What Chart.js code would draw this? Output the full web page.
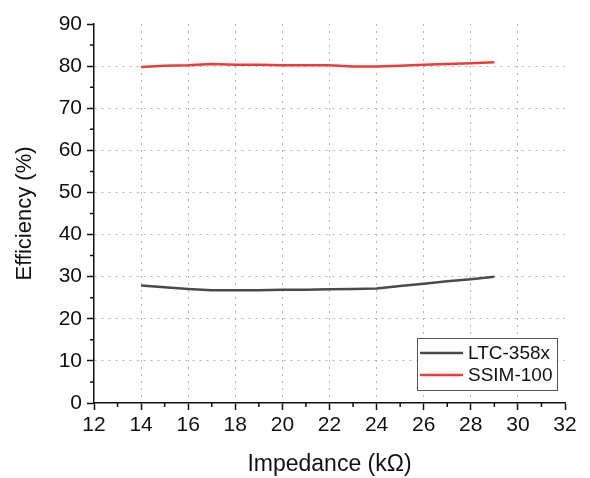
<!DOCTYPE html>
<html>
<head>
<meta charset="utf-8">
<script src="https://cdn.jsdelivr.net/npm/chart.js@4/dist/chart.umd.min.js"></script>
<style>
html,body{margin:0;padding:0;background:#fff;}
#wrap{width:590px;height:478px;position:relative;}
</style>
</head>
<body>
<div id="wrap"><canvas id="c" width="590" height="478"></canvas></div>
<script>
const impedance = [14,15,16,17,18,19,20,21,22,23,24,25,26,27,28,29];
const ltc358x   = [27.9,27.5,27.1,26.8,26.8,26.8,26.9,26.9,27.0,27.1,27.2,27.8,28.3,28.9,29.4,30.0];
const ssim100   = [79.8,80.1,80.2,80.5,80.3,80.3,80.2,80.2,80.2,79.9,79.9,80.1,80.3,80.5,80.7,80.9];
const seriesLabels = ['LTC-358x','SSIM-100'];
const seriesColors = ['#4a4a4a','#ee3a3a'];
const xMin = 12, xMax = 32, xStep = 2;
const yMin = 0, yMax = 90, yStep = 10;

const FONT = "'Liberation Sans', Arial, sans-serif";

const minorTicks = {
  id: 'minorTicks',
  afterDraw(chart) {
    const ctx = chart.ctx, xs = chart.scales.x, ys = chart.scales.y;
    ctx.save();
    ctx.strokeStyle = '#111';
    ctx.lineWidth = 1.5;
    ctx.beginPath();
    for (let v = xMin + xStep/2; v < xMax; v += xStep) {
      const px = xs.getPixelForValue(v);
      ctx.moveTo(px, ys.bottom); ctx.lineTo(px, ys.bottom + 4);
    }
    for (let v = yMin + yStep/2; v < yMax; v += yStep) {
      const py = ys.getPixelForValue(v);
      ctx.moveTo(xs.left, py); ctx.lineTo(xs.left - 4, py);
    }
    ctx.stroke();
    ctx.restore();
  }
};

const boxLegend = {
  id: 'boxLegend',
  afterDraw(chart) {
    const ctx = chart.ctx;
    const x0 = 417, y0 = 338, w = 140, h = 52;
    ctx.save();
    ctx.fillStyle = '#fff';
    ctx.fillRect(x0, y0, w, h);
    ctx.strokeStyle = '#555';
    ctx.lineWidth = 1;
    ctx.strokeRect(x0 + 0.5, y0 + 0.5, w, h);
    ctx.font = '19px ' + FONT;
    ctx.textBaseline = 'middle';
    ctx.fillStyle = '#111';
    chart.data.datasets.forEach((ds, i) => {
      const yy = y0 + 15 + i * 22;
      ctx.strokeStyle = ds.borderColor;
      ctx.lineWidth = 2.5;
      ctx.beginPath();
      ctx.moveTo(x0 + 3, yy); ctx.lineTo(x0 + 46, yy);
      ctx.stroke();
      ctx.fillText(ds.label, x0 + 51, yy + 1);
    });
    ctx.restore();
  }
};

const whiteBg = {
  id: 'whiteBg',
  beforeDraw(chart) {
    const ctx = chart.ctx;
    ctx.save(); ctx.fillStyle = '#fff';
    ctx.fillRect(0, 0, chart.width, chart.height);
    ctx.restore();
  }
};

const makeData = (ys) => impedance.map((x, i) => ({x: x, y: ys[i]}));

new Chart(document.getElementById('c'), {
  type: 'line',
  data: {
    datasets: [
      {label: seriesLabels[0], data: makeData(ltc358x), borderColor: seriesColors[0], backgroundColor: seriesColors[0], borderWidth: 2.5, pointRadius: 0, tension: 0},
      {label: seriesLabels[1], data: makeData(ssim100), borderColor: seriesColors[1], backgroundColor: seriesColors[1], borderWidth: 2.5, pointRadius: 0, tension: 0}
    ]
  },
  options: {
    responsive: false,
    animation: false,
    devicePixelRatio: 1,
    layout: {padding: {left: 0, right: 25, top: 24, bottom: 0}},
    plugins: {legend: {display: false}, tooltip: {enabled: false}},
    scales: {
      x: {
        type: 'linear', min: xMin, max: xMax,
        ticks: {stepSize: xStep, color: '#111', font: {family: FONT, size: 21}, padding: 3, maxRotation: 0, autoSkip: false},
        grid: {
          color: (c) => (c.tick && (c.tick.value === xMin || c.tick.value === xMax)) ? 'rgba(0,0,0,0)' : '#b4b4b4',
          lineWidth: 1, tickLength: 7, tickColor: '#111', tickWidth: 1.5
        },
        border: {display: true, color: '#111', width: 1.5, dash: [2, 5]},
        title: {display: true, text: 'Impedance (kΩ)', color: '#111', font: {family: FONT, size: 23}, padding: {top: 0, bottom: 0}},
        afterFit: (s) => { s.height = 75; }
      },
      y: {
        type: 'linear', min: yMin, max: yMax,
        ticks: {stepSize: yStep, color: '#111', font: {family: FONT, size: 21}, padding: 5},
        grid: {
          color: (c) => (c.tick && (c.tick.value === yMin || c.tick.value === yMax)) ? 'rgba(0,0,0,0)' : '#b4b4b4',
          lineWidth: 1, tickLength: 7, tickColor: '#111', tickWidth: 1.5
        },
        border: {display: true, color: '#111', width: 1.5, dash: [2, 5]},
        title: {display: true, text: 'Efficiency (%)', color: '#111', font: {family: FONT, size: 22}, padding: {top: 12, bottom: 0}},
        afterFit: (s) => { s.width = 94; }
      }
    }
  },
  plugins: [whiteBg, minorTicks, boxLegend]
});
</script>
</body>
</html>
